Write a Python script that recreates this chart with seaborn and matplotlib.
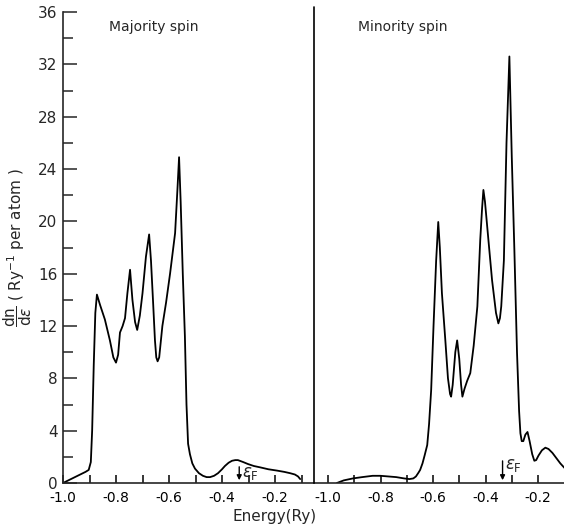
import matplotlib
matplotlib.use("Agg")
import numpy as np
import pandas as pd
import matplotlib.pyplot as plt
import seaborn as sns
from matplotlib.lines import Line2D
from matplotlib.ticker import FixedLocator

sns.set_style("white")
plt.rcParams['font.family'] = ['DejaVu Sans']
plt.rcParams['mathtext.fontset'] = 'dejavusans'
plt.rcParams['axes.unicode_minus'] = False

# ---- data ----
maj_energy = [-1.0, -0.97, -0.94, -0.915, -0.903, -0.895, -0.89, -0.884, -0.878, -0.872,
              -0.86, -0.842, -0.823, -0.81, -0.80, -0.792, -0.785, -0.775, -0.766, -0.757,
              -0.747, -0.738, -0.728, -0.72, -0.71, -0.70, -0.687, -0.675, -0.668, -0.66,
              -0.653, -0.648, -0.643, -0.637, -0.625, -0.611, -0.596, -0.577, -0.568, -0.562,
              -0.556, -0.548, -0.54, -0.534, -0.528, -0.521, -0.512, -0.502, -0.487, -0.472,
              -0.458, -0.445, -0.43, -0.415, -0.40, -0.389, -0.375, -0.362, -0.35, -0.34,
              -0.32, -0.302, -0.28, -0.257, -0.225, -0.193, -0.165, -0.143, -0.125, -0.113,
              -0.105]
maj_dos = [0.0, 0.3, 0.6, 0.85, 1.0, 1.6, 4.0, 9.0, 13.0, 14.4,
           13.6, 12.5, 10.9, 9.6, 9.2, 9.8, 11.5, 12.0, 12.6, 14.5,
           16.3, 14.0, 12.3, 11.7, 12.8, 14.5, 17.3, 19.0, 17.0, 13.8,
           10.9, 9.6, 9.3, 9.6, 12.0, 13.8, 16.0, 19.1, 22.5, 24.9,
           21.5, 16.0, 11.2, 6.0, 3.0, 2.2, 1.5, 1.1, 0.75, 0.55,
           0.45, 0.45, 0.55, 0.75, 1.05, 1.3, 1.55, 1.7, 1.75, 1.75,
           1.6, 1.45, 1.3, 1.2, 1.05, 0.95, 0.85, 0.75, 0.65, 0.5,
           0.3]

min_energy = [-0.966, -0.94, -0.905, -0.87, -0.83, -0.80, -0.77, -0.74, -0.71, -0.69,
              -0.675, -0.665, -0.655, -0.649, -0.64, -0.632, -0.622, -0.615, -0.607, -0.598,
              -0.588, -0.580, -0.574, -0.566, -0.553, -0.543, -0.535, -0.531, -0.525, -0.515,
              -0.508, -0.500, -0.493, -0.488, -0.480, -0.470, -0.458, -0.445, -0.431, -0.42,
              -0.413, -0.408, -0.402, -0.389, -0.375, -0.36, -0.351, -0.345, -0.34, -0.33,
              -0.32, -0.309, -0.30, -0.29, -0.28, -0.272, -0.267, -0.262, -0.256, -0.248,
              -0.24, -0.232, -0.222, -0.214, -0.207, -0.198, -0.185, -0.172, -0.16, -0.145,
              -0.13, -0.115, -0.099]
min_dos = [0.0, 0.2, 0.35, 0.45, 0.55, 0.55, 0.5, 0.45, 0.35, 0.3,
           0.35, 0.5, 0.8, 1.0, 1.5, 2.1, 2.9, 4.5, 7.1, 12.0,
           17.0, 19.95, 18.0, 14.5, 10.9, 8.0, 6.8, 6.6, 7.5, 10.0,
           10.9, 9.5, 7.5, 6.6, 7.2, 7.8, 8.4, 10.5, 13.5, 18.6,
           21.0, 22.4, 21.5, 18.6, 15.5, 13.0, 12.2, 12.6, 13.5, 17.0,
           26.0, 32.6, 25.0, 17.8, 10.0, 5.5, 3.8, 3.2, 3.2, 3.7,
           3.9, 3.2, 2.2, 1.7, 1.75, 2.1, 2.5, 2.7, 2.6, 2.3,
           1.9, 1.5, 1.15]

x_major = [-1.0, -0.8, -0.6, -0.4, -0.2]
x_major_labels = ["-1.0", "-0.8", "-0.6", "-0.4", "-0.2"]
x_minor = [-0.9, -0.7, -0.5, -0.3, -0.1]
y_major = [0, 4, 8, 12, 16, 20, 24, 28, 32, 36]
y_minor = [2, 6, 10, 14, 18, 22, 26, 30, 34]
panel_titles = ["Majority spin", "Minority spin"]
EF = -0.335

maj_df = pd.DataFrame({"energy": maj_energy, "dos": maj_dos})
min_df = pd.DataFrame({"energy": min_energy, "dos": min_dos})

# ---- layout (pixel-based) ----
W, H = 564, 529
fig = plt.figure(figsize=(W / 100, H / 100), dpi=100)
def fx(px): return px / W
def fy(py): return 1 - py / H

bottom, top = fy(483), fy(12)
ax1 = fig.add_axes([fx(63), bottom, fx(314) - fx(63), top - bottom])
ax2 = fig.add_axes([fx(314), bottom, fx(564) - fx(314), top - bottom])

sns.lineplot(data=maj_df, x="energy", y="dos", ax=ax1, color="black", lw=1.3, sort=False)
sns.lineplot(data=min_df, x="energy", y="dos", ax=ax2, color="black", lw=1.3, sort=False)

ax1.set_xlim(-1.0, -1.0 + (314 - 63) / 265)
ax2.set_xlim(-1.0 - (328 - 314) / 262.5, -1.0 + (564 - 328) / 262.5)
for ax in (ax1, ax2):
    ax.set_ylim(0, 36)
    ax.set_facecolor("none")
    for s in ("top", "right"):
        ax.spines[s].set_visible(False)
    ax.spines["bottom"].set_linewidth(1.2)
    ax.xaxis.set_major_locator(FixedLocator(x_major))
    ax.set_xticklabels(x_major_labels)
    ax.xaxis.set_minor_locator(FixedLocator(x_minor))
    ax.tick_params(axis="x", which="both", direction="in", length=6, width=1.1,
                   labelsize=10, pad=6, colors="black", bottom=True)
    ax.set_xlabel("")
    ax.set_ylabel("")

ax1.spines["left"].set_linewidth(1.2)
ax1.yaxis.set_major_locator(FixedLocator(y_major))
ax1.yaxis.set_minor_locator(FixedLocator(y_minor))
ax1.tick_params(axis="y", which="major", direction="in", length=10, width=1.1,
                labelsize=11, pad=4, left=True)
ax1.tick_params(axis="y", which="minor", direction="in", length=7, width=1.1, left=True)
ax2.spines["left"].set_visible(False)
ax2.tick_params(axis="y", which="both", left=False, labelleft=False)

ax1.set_ylabel(r"$\dfrac{\mathrm{dn}}{\mathrm{d}\epsilon}$ ( Ry$^{-1}$ per atom )",
               fontsize=11, labelpad=0)
ax1.yaxis.set_label_coords(-0.115, 0.5)

# divider between the two panels
fig.add_artist(Line2D([fx(314), fx(314)], [fy(483), fy(7)], color="black", lw=1.2))

# titles and axis label
fig.text(fx(154), fy(27), panel_titles[0], ha="center", va="center", fontsize=10)
fig.text(fx(403), fy(27), panel_titles[1], ha="center", va="center", fontsize=10)
fig.text(fx(275), fy(517), "Energy(Ry)", ha="center", va="center", fontsize=11)

# Fermi level markers
ax1.annotate("", xy=(EF, 0), xytext=(EF, 1.45),
             arrowprops=dict(arrowstyle="-|>", color="black", lw=1.0, mutation_scale=7))
ax1.text(EF + 0.012, 0.75, r"$\epsilon_{\mathrm{F}}$", fontsize=12, va="center", ha="left")
ax2.annotate("", xy=(EF, 0), xytext=(EF, 1.9),
             arrowprops=dict(arrowstyle="-|>", color="black", lw=1.0, mutation_scale=7))
ax2.text(EF + 0.01, 1.4, r"$\epsilon_{\mathrm{F}}$", fontsize=12, va="center", ha="left")

fig.savefig("out.png", dpi=100)
